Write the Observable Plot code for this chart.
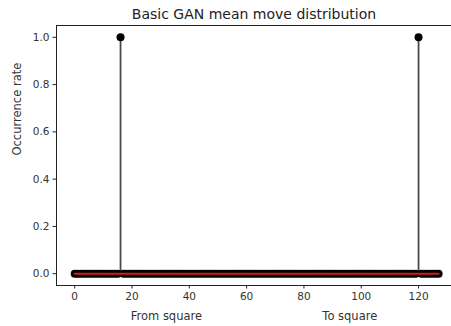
<!DOCTYPE html>
<html>
<head>
<meta charset="utf-8">
<script src="https://cdn.jsdelivr.net/npm/d3@7"></script>
<script src="https://cdn.jsdelivr.net/npm/@observablehq/plot@0.6"></script>
<style>
  html, body { margin: 0; padding: 0; background: #fff; }
  svg { display: block; }
</style>
</head>
<body>
<div id="chart"></div>
<script>
// Occurrence rate per move index (0–63: from square, 64–127: to square)
const values = [
  0,0,0,0,0,0,0,0,0,0,0,0,0,0,0,0,
  1,0,0,0,0,0,0,0,0,0,0,0,0,0,0,0,
  0,0,0,0,0,0,0,0,0,0,0,0,0,0,0,0,
  0,0,0,0,0,0,0,0,0,0,0,0,0,0,0,0,
  0,0,0,0,0,0,0,0,0,0,0,0,0,0,0,0,
  0,0,0,0,0,0,0,0,0,0,0,0,0,0,0,0,
  0,0,0,0,0,0,0,0,0,0,0,0,0,0,0,0,
  0,0,0,0,0,0,0,0,1,0,0,0,0,0,0,0
];
const xTicks = [0, 20, 40, 60, 80, 100, 120];
const yTicks = [0, 0.2, 0.4, 0.6, 0.8, 1.0];
const sectionLabels = ["From square", "To square"];
const sectionCenters = [32, 96];
const title = "Basic GAN mean move distribution";
const yLabel = "Occurrence rate";

const data = values.map((v, i) => ({i, v}));
const sections = sectionLabels.map((label, k) => ({label, x: sectionCenters[k]}));

const xDomain = [-6.35, 131.5];
const yDomain = [-0.05, 1.05];
const font = "DejaVu Sans, sans-serif";

const chart = Plot.plot({
  width: 451,
  height: 326,
  marginLeft: 56,
  marginRight: 0,
  marginTop: 25,
  marginBottom: 41,
  style: {fontFamily: font, fontSize: "10px", color: "#333", background: "#fff"},
  x: {domain: xDomain},
  y: {domain: yDomain},
  marks: [
    // spines (left, top, bottom)
    Plot.ruleX([xDomain[0]], {stroke: "#222", strokeWidth: 1}),
    Plot.ruleY([yDomain[1]], {stroke: "#222", strokeWidth: 1}),
    Plot.ruleY([yDomain[0]], {stroke: "#222", strokeWidth: 1}),
    Plot.axisX({ticks: xTicks, tickSize: 3.5, tickPadding: 3.5, tickFormat: d => String(d), label: null, fontSize: 10.5, stroke: "#222", fill: "#333"}),
    Plot.axisY({ticks: yTicks, tickSize: 3.5, tickPadding: 3.5, tickFormat: d3.format(".1f"), label: null, fontSize: 10.5, stroke: "#222", fill: "#333"}),
    // stems
    Plot.ruleX(data, {x: "i", y1: 0, y2: "v", stroke: "#4a4a4a", strokeWidth: 1.8}),
    // markers
    Plot.dot(data, {x: "i", y: "v", r: 4, fill: "#000", stroke: "none"}),
    // baseline
    Plot.lineY(data, {x: "i", y: () => 0, stroke: "#d21c1c", strokeWidth: 2}),
    // section labels under x axis
    Plot.text(sections, {x: "x", text: "label", frameAnchor: "bottom", dy: 31, lineAnchor: "middle", fontSize: 11.5, fill: "#333"}),
    // y label
    Plot.text([yLabel], {text: d => d, frameAnchor: "left", rotate: -90, dx: -39, fontSize: 11.5, fill: "#333"}),
    // title
    Plot.text([title], {text: d => d, frameAnchor: "top", lineAnchor: "middle", dy: -11, fontSize: 14, fill: "#222"})
  ]
});
document.getElementById("chart").appendChild(chart);
</script>
</body>
</html>
